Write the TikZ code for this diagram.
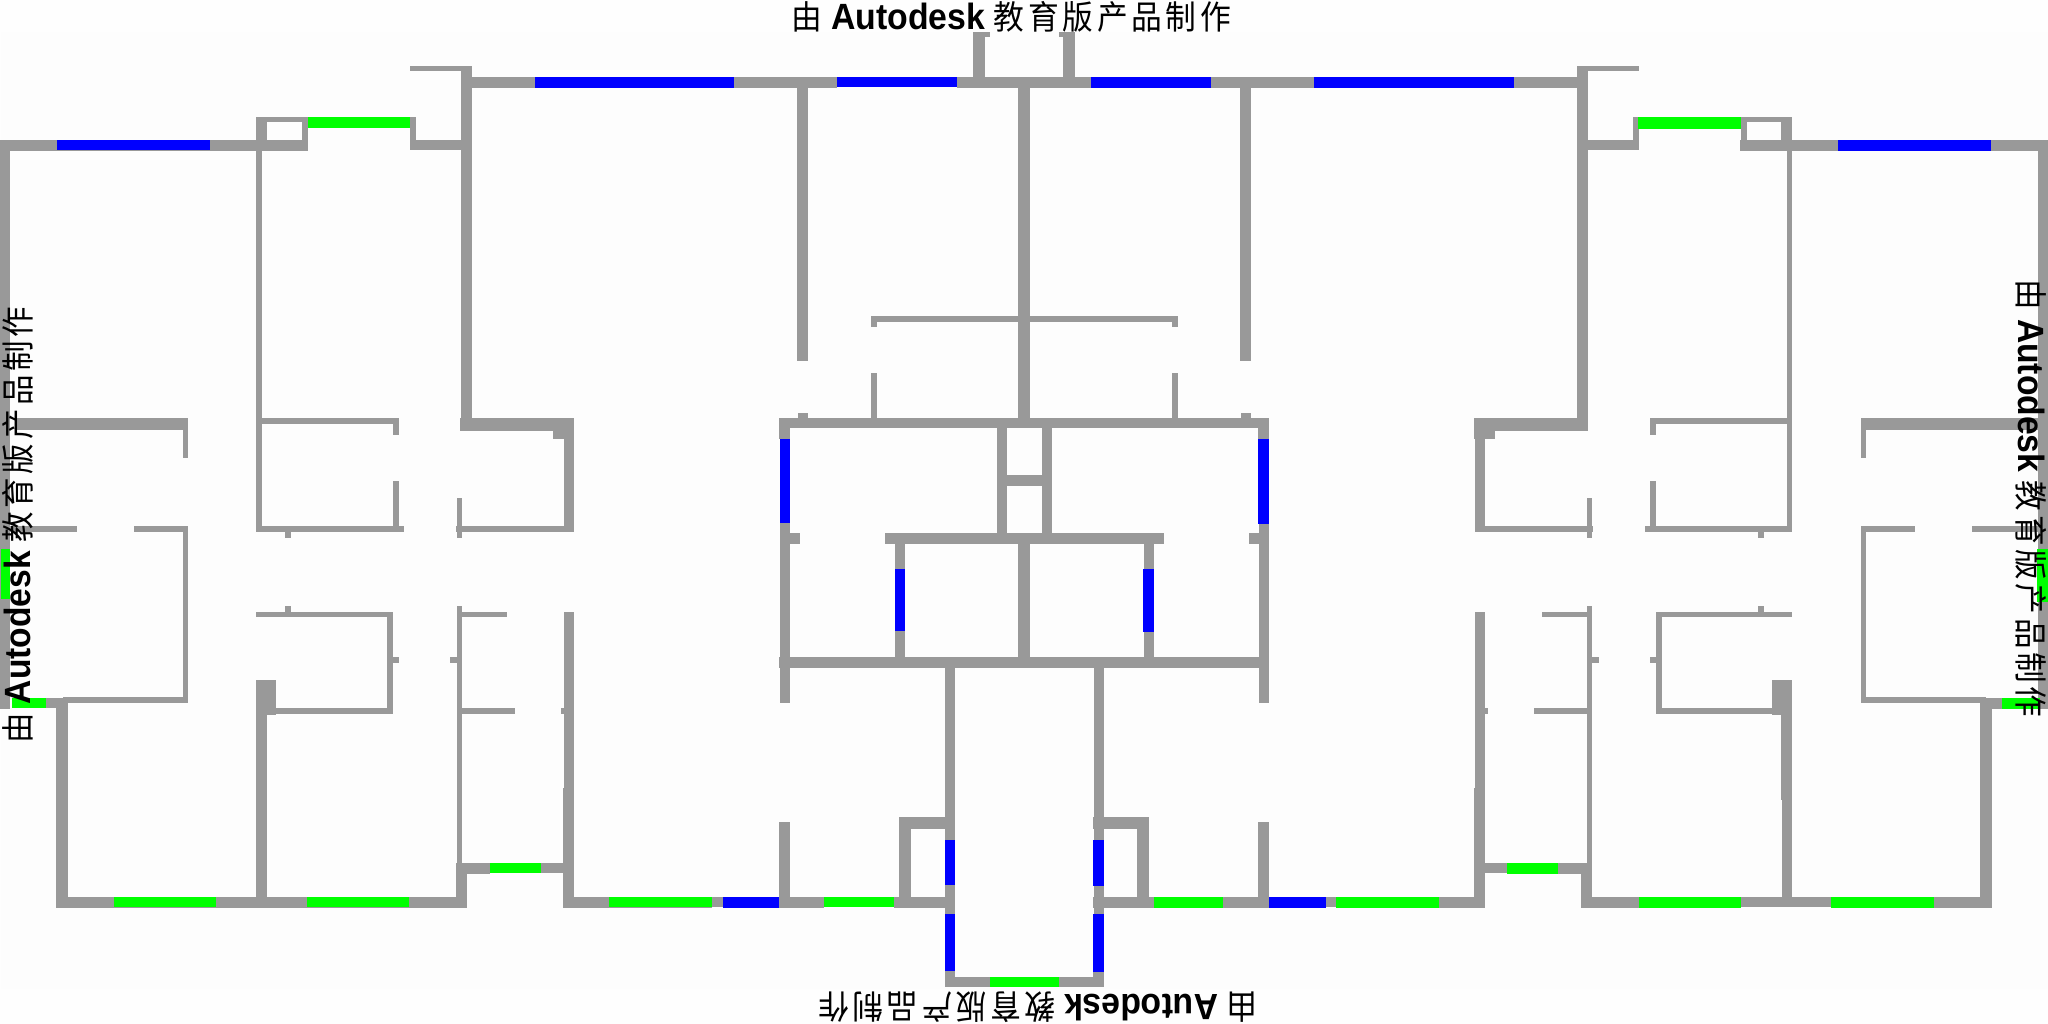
\documentclass[tikz,border=0pt]{standalone}
\usepackage{fontspec}
\usepackage{graphicx}
\setmainfont{Liberation Sans}
\newfontfamily\cjk[LetterSpace=12]{Noto Sans CJK SC}
\definecolor{wallgray}{HTML}{999999}
\definecolor{winblue}{HTML}{0000FF}
\definecolor{wingreen}{HTML}{00FF00}
\definecolor{paper}{HTML}{FDFDFD}
\definecolor{margin}{HTML}{FEFEFE}
\newcommand\wl[4]{\fill[wallgray] (#1,#2) rectangle (#3,#4);}
\newcommand\wb[4]{\fill[winblue] (#1,#2) rectangle (#3,#4);}
\newcommand\wg[4]{\fill[wingreen] (#1,#2) rectangle (#3,#4);}
\newcommand\stamp{{\cjk 由}\hspace{0.28em}\scalebox{1.1}{\textbf{Autodesk}}\hspace{0.28em}{\cjk 教育版产品制作}}
\tikzset{stamptext/.style={inner sep=0pt,outer sep=0pt,text=black}}
\begin{document}
\begin{tikzpicture}[x=0.01cm,y=-0.01cm]
\useasboundingbox (0,0) rectangle (2048,1024);
\fill[margin] (0,0) rectangle (2048,1024);
\fill[paper] (1,32) rectangle (2048,989);
% ---- outer top wall, centre
\wl{461}{66}{472}{431}
\wl{410}{66}{472}{71}
\wl{472}{77}{535}{88}
\wb{535}{77}{734}{88}
\wl{734}{77}{837}{88}
\wb{837}{77}{957}{87}
\wl{957}{77}{1091}{88}
\wb{1091}{77}{1211}{88}
\wl{1211}{77}{1314}{88}
\wb{1314}{77}{1514}{88}
\wl{1514}{77}{1577}{88}
\wl{1577}{66}{1588}{431}
\wl{1577}{66}{1639}{71}
% entrance
\wl{973}{32}{985}{77}
\wl{973}{32}{990}{37}
\wl{1063}{32}{1075}{77}
\wl{1059}{32}{1075}{37}
% ---- left wing top
\wl{0}{140}{308}{151}
\wb{57}{140}{210}{150}
\wl{0}{140}{10}{709}
\wg{1}{549}{10}{599}
\wl{256}{117}{267}{140}
\wl{256}{117}{308}{122}
\wl{302}{117}{308}{140}
\wg{308}{117}{410}{128}
\wl{410}{117}{416}{150}
\wl{410}{140}{461}{150}
\wl{256}{151}{262}{532}
% left rooms
\wl{16}{418}{188}{430}
\wl{183}{430}{188}{458}
\wl{10}{526}{77}{532}
\wl{134}{526}{188}{532}
\wl{183}{526}{188}{703}
\wl{63}{697}{188}{703}
\wg{12}{698}{46}{708}
\wl{46}{698}{63}{708}
\wl{56}{698}{68}{908}
\wl{262}{418}{399}{424}
\wl{393}{424}{399}{435}
\wl{393}{481}{399}{526}
\wl{256}{526}{404}{532}
\wl{285}{532}{291}{538}
\wl{460}{418}{574}{431}
\wl{553}{431}{574}{439}
\wl{564}{439}{574}{532}
\wl{457}{498}{462}{538}
\wl{456}{526}{574}{532}
% left lower
\wl{256}{680}{276}{715}
\wl{256}{715}{267}{897}
\wl{276}{708}{393}{714}
\wl{387}{612}{393}{714}
\wl{256}{612}{393}{617}
\wl{285}{606}{291}{612}
\wl{393}{657}{399}{663}
\wl{450}{657}{457}{663}
\wl{457}{606}{462}{863}
\wl{462}{612}{507}{617}
\wl{462}{708}{515}{714}
\wl{561}{708}{564}{714}
\wl{564}{612}{574}{908}
\wl{563}{788}{564}{908}
\wl{456}{863}{467}{908}
\wl{456}{863}{490}{874}
\wg{490}{863}{541}{873}
\wl{541}{863}{563}{873}
% bottom left
\wl{56}{897}{467}{908}
\wg{114}{897}{216}{907}
\wg{307}{897}{409}{907}
\wl{563}{897}{712}{908}
\wg{609}{897}{712}{907}
\wl{712}{897}{723}{907}
\wb{723}{897}{779}{908}
\wl{779}{897}{824}{908}
\wg{824}{897}{894}{907}
\wl{894}{897}{955}{908}
% ---- centre block
\wl{797}{88}{808}{361}
\wl{798}{413}{808}{418}
\wl{1018}{88}{1030}{418}
\wl{1240}{88}{1251}{361}
\wl{1241}{413}{1251}{418}
\wl{871}{316}{1178}{322}
\wl{871}{322}{877}{327}
\wl{1172}{322}{1178}{327}
\wl{871}{373}{877}{418}
\wl{1172}{373}{1178}{418}
\wl{779}{418}{1269}{428}
\wl{779}{428}{790}{439}
\wb{780}{439}{790}{523}
\wl{780}{523}{790}{703}
\wl{1258}{428}{1269}{439}
\wb{1258}{439}{1269}{524}
\wl{1259}{524}{1269}{703}
\wl{997}{428}{1007}{533}
\wl{1042}{428}{1052}{533}
\wl{997}{475}{1052}{486}
\wl{885}{533}{1164}{544}
\wl{790}{533}{800}{544}
\wl{1249}{533}{1259}{544}
\wl{895}{544}{905}{657}
\wb{895}{569}{905}{631}
\wl{1144}{544}{1154}{657}
\wb{1143}{569}{1154}{632}
\wl{1018}{544}{1030}{657}
\wl{779}{657}{1269}{668}
\wl{779}{822}{790}{908}
\wl{1258}{822}{1269}{908}
% shaft
\wl{945}{668}{955}{840}
\wb{945}{840}{955}{885}
\wl{945}{885}{955}{914}
\wb{945}{914}{955}{971}
\wl{945}{971}{955}{987}
\wl{1094}{668}{1104}{840}
\wb{1093}{840}{1104}{886}
\wl{1094}{886}{1104}{914}
\wb{1093}{914}{1104}{972}
\wl{1093}{972}{1104}{987}
\wl{945}{977}{1104}{987}
\wg{990}{977}{1059}{987}
\wl{899}{817}{911}{897}
\wl{899}{817}{955}{829}
\wl{1137}{817}{1149}{897}
\wl{1093}{817}{1149}{829}
\wl{1093}{897}{1154}{908}
\wg{1154}{897}{1223}{908}
\wl{1223}{897}{1269}{908}
\wb{1269}{897}{1326}{908}
\wl{1326}{897}{1336}{907}
\wg{1336}{897}{1439}{908}
\wl{1439}{897}{1485}{908}
% ---- right wing
\wl{1475}{439}{1485}{532}
\wl{1474}{418}{1588}{431}
\wl{1474}{431}{1495}{439}
\wl{1475}{612}{1485}{908}
\wl{1474}{788}{1475}{908}
\wl{1485}{708}{1488}{714}
\wl{1485}{863}{1507}{873}
\wg{1507}{863}{1558}{874}
\wl{1558}{863}{1592}{874}
\wl{1581}{863}{1592}{908}
\wl{1587}{498}{1592}{538}
\wl{1587}{606}{1592}{863}
\wl{1542}{612}{1587}{617}
\wl{1534}{708}{1587}{714}
\wl{1592}{657}{1599}{663}
\wl{1650}{657}{1656}{663}
\wl{1485}{526}{1593}{532}
\wl{1645}{526}{1792}{532}
\wl{1650}{481}{1656}{526}
\wl{1650}{418}{1656}{435}
\wl{1650}{418}{1790}{424}
\wl{1787}{151}{1792}{532}
\wl{1656}{612}{1792}{617}
\wl{1758}{606}{1764}{612}
\wl{1758}{532}{1764}{538}
\wl{1656}{612}{1662}{714}
\wl{1656}{708}{1772}{714}
\wl{1772}{680}{1792}{715}
\wl{1781}{715}{1792}{800}
\wl{1782}{800}{1792}{897}
\wl{1581}{897}{1639}{908}
\wg{1639}{897}{1741}{908}
\wl{1741}{897}{1831}{907}
\wg{1831}{897}{1934}{908}
\wl{1934}{897}{1992}{908}
\wl{1980}{698}{1992}{908}
\wl{1980}{698}{2002}{709}
\wl{1861}{697}{1986}{703}
\wl{1861}{526}{1866}{703}
\wl{1861}{526}{1915}{532}
\wl{1972}{526}{2038}{532}
\wl{2038}{140}{2048}{709}
\wg{2037}{549}{2048}{602}
\wg{2002}{698}{2040}{709}
\wl{2040}{698}{2048}{709}
\wl{1588}{140}{1639}{150}
\wl{1633}{117}{1639}{150}
\wg{1638}{117}{1741}{129}
\wl{1741}{117}{1792}{122}
\wl{1741}{117}{1747}{140}
\wl{1781}{117}{1792}{140}
\wl{1740}{140}{1838}{151}
\wb{1838}{140}{1991}{151}
\wl{1991}{140}{2048}{151}
\wl{1861}{418}{2040}{430}
\wl{1861}{430}{1866}{458}
% ---- stamps
\node[stamptext] (stamptop) at (1011.5,17) {\resizebox*{4.39cm}{0.31cm}{\stamp}};
\node[stamptext,rotate=180] (stampbottom) at (1038,1007) {\resizebox*{4.39cm}{0.31cm}{\stamp}};
\node[stamptext,rotate=90] (stampleft) at (17.5,525) {\resizebox*{4.36cm}{0.31cm}{\stamp}};
\node[stamptext,rotate=-90] (stampright) at (2031,498.5) {\resizebox*{4.37cm}{0.31cm}{\stamp}};
\end{tikzpicture}
\end{document}
